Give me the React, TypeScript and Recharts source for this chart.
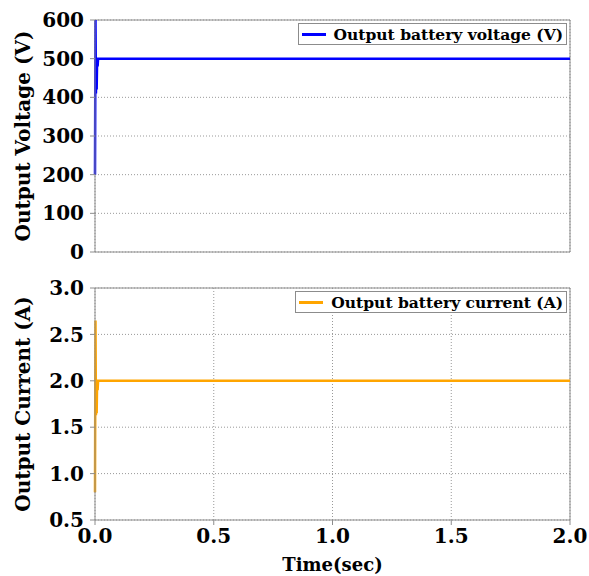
import React from "react"
import {
  LineChart,
  Line,
  XAxis,
  YAxis,
  CartesianGrid,
  ReferenceLine,
} from "recharts"

const FONT = "'DejaVu Serif', serif"

// time (sec) values for each series
const voltageTime = [0, 0.002, 0.004, 0.006, 0.007, 0.009, 0.011, 0.013, 0.02, 0.5, 1.0, 1.5, 2.0]
const voltageValues = [200, 600, 410, 500, 420, 500, 480, 500, 500, 500, 500, 500, 500]

const currentTime = [0, 0.002, 0.004, 0.006, 0.007, 0.009, 0.011, 0.013, 0.02, 0.5, 1.0, 1.5, 2.0]
const currentValues = [0.8, 2.65, 1.63, 2.0, 1.65, 2.0, 1.9, 2.0, 2.0, 2.0, 2.0, 2.0, 2.0]

const xTicks = [0, 0.5, 1.0, 1.5, 2.0]
const voltageTicks = [0, 100, 200, 300, 400, 500, 600]
const currentTicks = [0.5, 1.0, 1.5, 2.0, 2.5, 3.0]

const voltageData = voltageTime.map((t, i) => ({ t, v: voltageValues[i] }))
const currentData = currentTime.map((t, i) => ({ t, v: currentValues[i] }))

const AXIS = "#8c8c8c"
const tickStyle = { fill: "#000", fontSize: 20, fontWeight: 700, fontFamily: FONT }

function yLabel(text: string) {
  return (props: any) => {
    const vb = props.viewBox
    const x = vb.x + 23
    const y = vb.y + vb.height / 2
    return (
      <text
        x={x}
        y={y}
        transform={`rotate(-90, ${x}, ${y})`}
        textAnchor="middle"
        dominantBaseline="central"
        fontSize={20}
        fontWeight={700}
        fontFamily={FONT}
        fill="#000"
      >
        {text}
      </text>
    )
  }
}

function LegendBox({ text, color, top }: { text: string; color: string; top: number }) {
  return (
    <div
      style={{
        position: "absolute",
        top,
        right: 22,
        display: "flex",
        alignItems: "center",
        border: `1px solid ${AXIS}`,
        background: "#fff",
        padding: "0 3px 0 3px",
        height: 20,
        fontFamily: FONT,
        fontWeight: 700,
        fontSize: 15.5,
        color: "#000",
        whiteSpace: "nowrap",
      }}
    >
      <span style={{ display: "inline-block", width: 24, height: 3, background: color, marginRight: 8 }} />
      {text}
    </div>
  )
}

export default function App() {
  return (
    <div style={{ position: "absolute", left: 0, top: 0, width: 589, height: 576, background: "#fff" }}>
      <LineChart width={589} height={272} data={voltageData} margin={{ top: 20, right: 19, left: 0, bottom: 0 }}>
        <CartesianGrid stroke="#999" strokeDasharray="1 2" />
        <XAxis
          dataKey="t"
          type="number"
          domain={[0, 2]}
          ticks={xTicks}
          tick={false}
          tickLine={false}
          height={20}
          stroke={AXIS}
        />
        <YAxis
          type="number"
          domain={[0, 600]}
          ticks={voltageTicks}
          interval={0}
          tick={tickStyle}
          tickSize={5}
          tickMargin={6}
          width={95}
          stroke={AXIS}
          label={yLabel("Output Voltage (V)")}
        />
        <ReferenceLine y={600} stroke={AXIS} />
        <ReferenceLine x={2} stroke={AXIS} />
        <Line type="linear" dataKey="v" stroke="#0000ff" strokeWidth={2.5} dot={false} isAnimationActive={false} />
      </LineChart>
      <div style={{ marginTop: -10 }}>
        <LineChart width={589} height={314} data={currentData} margin={{ top: 26, right: 19, left: 0, bottom: 0 }}>
          <CartesianGrid stroke="#999" strokeDasharray="1 2" />
          <XAxis
            dataKey="t"
            type="number"
            domain={[0, 2]}
            ticks={xTicks}
            interval={0}
            tickFormatter={(v) => Number(v).toFixed(1)}
            tick={tickStyle}
            tickSize={5}
            tickMargin={4}
            height={56}
            stroke={AXIS}
            label={{
              value: "Time(sec)",
              position: "insideBottom",
              offset: 5,
              style: { fill: "#000", fontSize: 18, fontWeight: 700, fontFamily: FONT },
            }}
          />
          <YAxis
            type="number"
            domain={[0.5, 3.0]}
            ticks={currentTicks}
            interval={0}
            tickFormatter={(v) => Number(v).toFixed(1)}
            tick={tickStyle}
            tickSize={5}
            tickMargin={6}
            width={95}
            stroke={AXIS}
            label={yLabel("Output Current (A)")}
          />
          <ReferenceLine y={3} stroke={AXIS} />
          <ReferenceLine x={2} stroke={AXIS} />
          <Line type="linear" dataKey="v" stroke="#ffa500" strokeWidth={2.5} dot={false} isAnimationActive={false} />
        </LineChart>
      </div>
      <LegendBox text="Output battery voltage (V)" color="#0000ff" top={23} />
      <LegendBox text="Output battery current (A)" color="#ffa500" top={291} />
    </div>
  )
}
